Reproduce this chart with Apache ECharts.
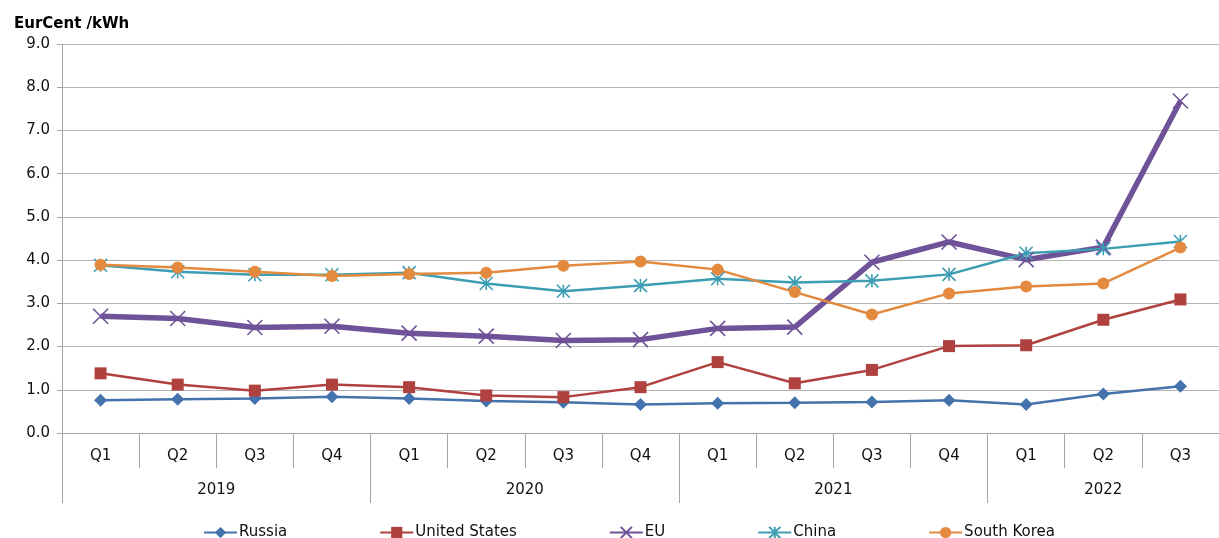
<!DOCTYPE html>
<html>
<head>
<meta charset="utf-8">
<script src="https://cdn.jsdelivr.net/npm/echarts@6/dist/echarts.min.js"></script>
<style>
html,body{margin:0;padding:0;background:#fff;}
#chart{width:1219px;height:538px;}
</style>
</head>
<body>
<div id="chart"></div>
<script>
const quarters = ['Q1','Q2','Q3','Q4','Q1','Q2','Q3','Q4','Q1','Q2','Q3','Q4','Q1','Q2','Q3'];
const years = ['2019','2020','2021','2022'];
const yearCounts = [4,4,4,3];
const yTicks = [0,1,2,3,4,5,6,7,8,9];

const russia = [0.76,0.78,0.80,0.84,0.80,0.74,0.71,0.66,0.69,0.70,0.72,0.76,0.66,0.90,1.08];
const unitedStates = [1.38,1.12,0.98,1.12,1.06,0.87,0.83,1.06,1.64,1.15,1.46,2.01,2.03,2.62,3.09];
const eu = [2.70,2.65,2.44,2.47,2.31,2.24,2.14,2.16,2.42,2.45,3.95,4.42,4.01,4.30,7.68];
const china = [3.88,3.73,3.66,3.66,3.71,3.46,3.28,3.41,3.57,3.48,3.52,3.67,4.16,4.26,4.43];
const southKorea = [3.89,3.83,3.73,3.63,3.68,3.71,3.87,3.97,3.78,3.26,2.74,3.23,3.39,3.46,4.29];

const FONT = 'DejaVu Sans';
const C = {ru:'#4372AC', us:'#AF413F', eu:'#6F5297', cn:'#3C9DB3', sk:'#E38A3E'};

// year boundaries and centres on a 0..n value scale
const bounds = [0]; yearCounts.forEach(c => bounds.push(bounds[bounds.length-1] + c));
const centres = yearCounts.map((c,i) => bounds[i] + c/2);

const xSym = 'path://M0,0L10,10M10,0L0,10';
const starSym = 'path://M5,0L5,10M0,0L10,10M10,0L0,10';

function mk(name, data, color, symbol, size, width, stroke) {
  return {
    name, type:'line', data, xAxisIndex:0, yAxisIndex:0,
    symbol, symbolSize:size, showSymbol:true,
    lineStyle:{color, width},
    itemStyle:{color, borderColor:color, borderWidth: stroke ? 1.6 : 0},
    emphasis:{disabled:true}, animation:false
  };
}

const chart = echarts.init(document.getElementById('chart'));
chart.setOption({
  animation:false,
  textStyle:{fontFamily:FONT},
  title:{text:'EurCent /kWh', left:9, top:12,
    textStyle:{fontFamily:FONT, fontSize:15, fontWeight:'bold', color:'#000'}},
  grid:{left:62, right:0, top:44, bottom:105, containLabel:false},
  legend:{
    top:520, left:198, itemGap:92, itemWidth:33, itemHeight:14,
    textStyle:{fontFamily:FONT, fontSize:15, color:'#111', padding:[0,0,0,-3]},
    data:['Russia','United States','EU','China','South Korea']
  },
  xAxis:[
    {type:'category', data:quarters, boundaryGap:true, position:'bottom',
     axisLine:{lineStyle:{color:'#a6a6a6', width:1}},
     axisTick:{show:true, length:35, lineStyle:{color:'#a6a6a6'}},
     axisLabel:{fontFamily:FONT, fontSize:15, color:'#111', margin:16, interval:0}},
    {type:'value', min:0, max:quarters.length, position:'bottom',
     axisLine:{show:false}, splitLine:{show:false},
     axisTick:{show:true, length:70, customValues:bounds, lineStyle:{color:'#a6a6a6'}},
     axisLabel:{fontFamily:FONT, fontSize:15, color:'#111', margin:50, customValues:centres,
       formatter:(v)=>{ const i = centres.indexOf(v); return i>=0 ? years[i] : ''; }}}
  ],
  yAxis:{type:'value', min:yTicks[0], max:yTicks[yTicks.length-1], interval:1,
    axisLine:{show:true, lineStyle:{color:'#a6a6a6'}},
    axisTick:{show:true, length:5, lineStyle:{color:'#a6a6a6'}},
    splitLine:{lineStyle:{color:'#b3b3b3', width:1}},
    axisLabel:{fontFamily:FONT, fontSize:15, color:'#111', margin:12, formatter:v=>v.toFixed(1)}},
  series:[
    mk('Russia', russia, C.ru, 'diamond', 13, 2.5, false),
    mk('United States', unitedStates, C.us, 'rect', 12, 2.5, false),
    mk('EU', eu, C.eu, xSym, 15, 5.5, true),
    mk('China', china, C.cn, starSym, 13, 2.5, true),
    mk('South Korea', southKorea, C.sk, 'circle', 12, 2.5, false)
  ]
});
</script>
</body>
</html>
